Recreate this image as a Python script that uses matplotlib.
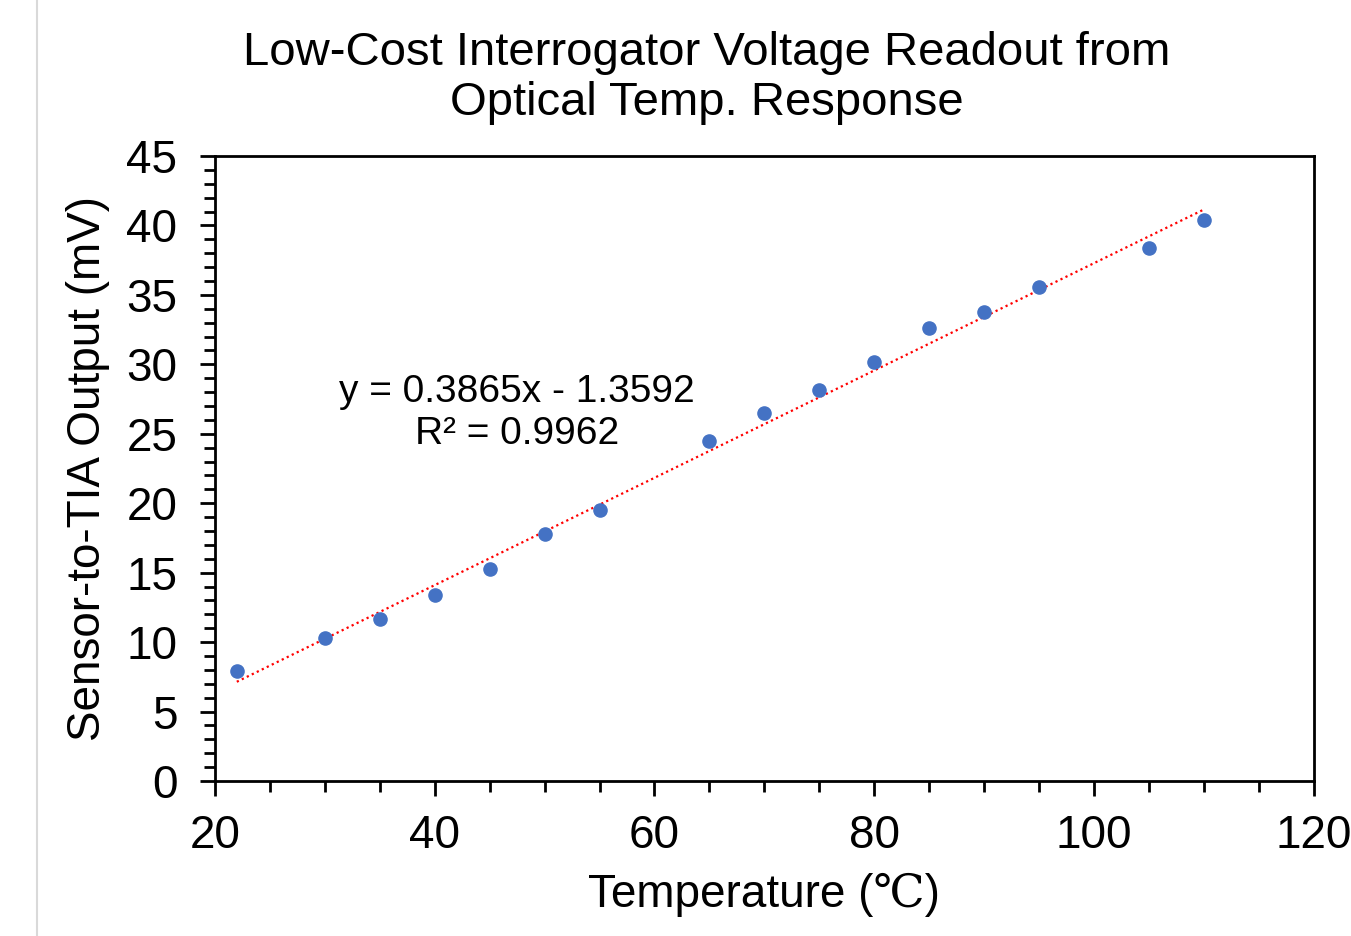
import numpy as np
import matplotlib.pyplot as plt
from matplotlib.ticker import MultipleLocator
from matplotlib.lines import Line2D

plt.rcParams['font.family'] = ['Liberation Sans', 'DejaVu Serif']

temp = [22, 30, 35, 40, 45, 50, 55, 65, 70, 75, 80, 85, 90, 95, 105, 110]
volt = [7.9, 10.3, 11.7, 13.4, 15.3, 17.8, 19.5, 24.5, 26.5, 28.15, 30.2, 32.6, 33.8, 35.6, 38.4, 40.4]
slope, intercept = 0.3865, -1.3592

fig = plt.figure(figsize=(13.51, 9.36), dpi=100)
ax = fig.add_axes([0.159, 0.1656, 0.8136, 0.6677])

xs = np.array([min(temp), max(temp)])
ax.plot(xs, slope * xs + intercept, color='#FF0000', linestyle=(0, (1, 1.5)), linewidth=1.6)
ax.scatter(temp, volt, s=90, color='#4472C4', zorder=3)

ax.set_xlim(20, 120)
ax.set_ylim(0, 45)
ax.xaxis.set_major_locator(MultipleLocator(20))
ax.xaxis.set_minor_locator(MultipleLocator(5))
ax.yaxis.set_major_locator(MultipleLocator(5))
ax.yaxis.set_minor_locator(MultipleLocator(1))
ax.tick_params(which='major', direction='out', length=11, width=2, labelsize=33)
ax.tick_params(axis='x', which='major', pad=13)
ax.tick_params(axis='y', which='major', pad=16)
ax.tick_params(which='minor', direction='out', length=8, width=2)
for s in ax.spines.values():
    s.set_linewidth(2)

ax.set_xlabel('Temperature (℃)', fontsize=33)
ax.xaxis.label.set_va('center')
ax.xaxis.set_label_coords(0.5, -0.182)
ax.set_ylabel('Sensor-to-TIA Output (mV)', fontsize=33, rotation_mode='default', va='center', ha='center')
ax.yaxis.set_label_coords(-0.1156, 0.5)

fig.text(0.523, 0.9167, 'Low-Cost Interrogator Voltage Readout from\nOptical Temp. Response',
         fontsize=34, ha='center', va='center', linespacing=1.17)

ax.text(47.5, 26.5, 'y = 0.3865x - 1.3592\nR² = 0.9962', fontsize=28, ha='center', va='center', linespacing=1.2)

fig.add_artist(Line2D([0.0274, 0.0274], [0, 1], color='#d9d9d9', linewidth=1.5, transform=fig.transFigure))

fig.savefig('out.png', dpi=100)
